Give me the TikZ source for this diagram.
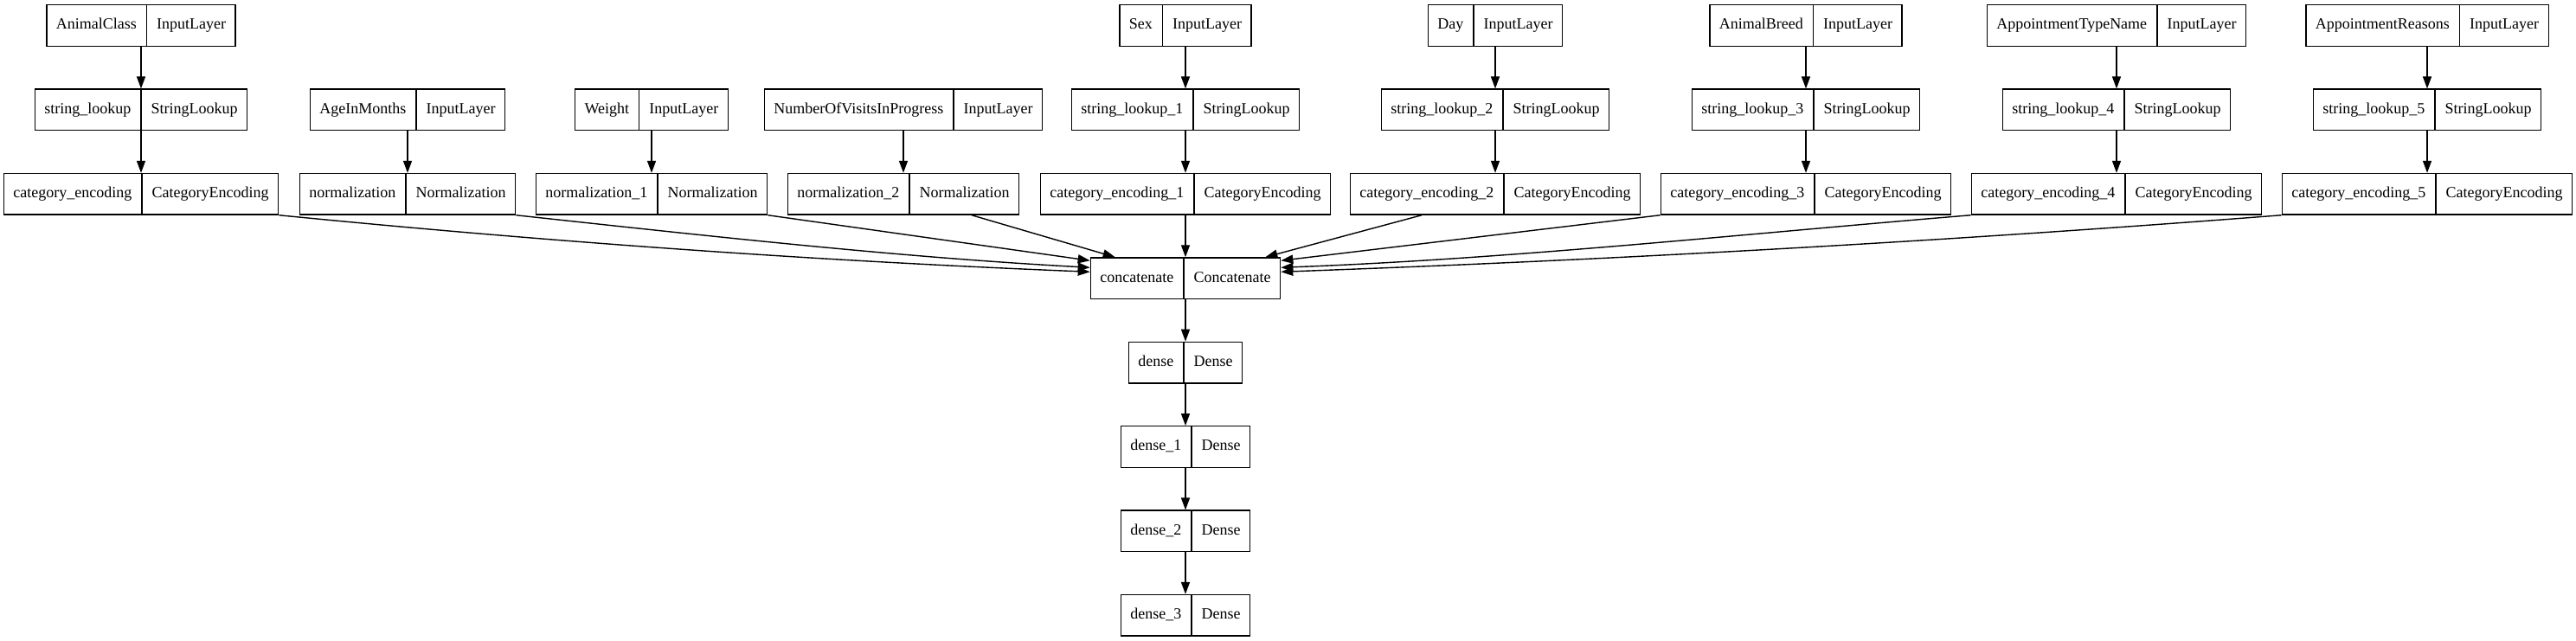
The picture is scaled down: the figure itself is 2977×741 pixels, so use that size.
\documentclass[tikz,border=0pt]{standalone}
\usepackage{fontspec}
\setmainfont{Liberation Serif}
\usetikzlibrary{shapes.multipart,arrows.meta,calc}
\newcommand{\fstrut}{\rule[-3.5pt]{0pt}{13.5pt}}
\newcommand{\recnode}[5]{\node[recbox] (#1) at (#2,#3) {#4\fstrut\nodepart{two}#5\fstrut};}
\tikzset{
  recbox/.style={draw, line width=1.05pt, rectangle split, rectangle split horizontal,
    rectangle split parts=2, inner xsep=8.25pt, inner ysep=11.05pt,
    font=\fontsize{13.5}{16}\selectfont},
  conn/.style={draw, line width=1.05pt, -{Triangle[length=10.5pt,width=7.5pt]}}
}
\begin{document}
\begin{tikzpicture}[x=0.75pt,y=-0.75pt]
\useasboundingbox (0,0) rectangle (2977,741);
% row 1
\recnode{ac}{163}{29.5}{AnimalClass}{InputLayer}
\recnode{sex}{1370}{29.5}{Sex}{InputLayer}
\recnode{day}{1728}{29.5}{Day}{InputLayer}
\recnode{ab}{2087}{29.5}{AnimalBreed}{InputLayer}
\recnode{atn}{2446}{29.5}{AppointmentTypeName}{InputLayer}
\recnode{ar}{2805}{29.5}{AppointmentReasons}{InputLayer}
% row 2
\recnode{sl}{163}{126.9}{string\_lookup}{StringLookup}
\recnode{age}{471}{126.9}{AgeInMonths}{InputLayer}
\recnode{wt}{753}{126.9}{Weight}{InputLayer}
\recnode{nv}{1044}{126.9}{NumberOfVisitsInProgress}{InputLayer}
\recnode{slA}{1370}{126.9}{string\_lookup\_1}{StringLookup}
\recnode{slB}{1728}{126.9}{string\_lookup\_2}{StringLookup}
\recnode{slC}{2087}{126.9}{string\_lookup\_3}{StringLookup}
\recnode{slD}{2446}{126.9}{string\_lookup\_4}{StringLookup}
\recnode{slE}{2805}{126.9}{string\_lookup\_5}{StringLookup}
% row 3
\recnode{ce}{163}{224.3}{category\_encoding}{CategoryEncoding}
\recnode{nm}{471}{224.3}{normalization}{Normalization}
\recnode{nmA}{753}{224.3}{normalization\_1}{Normalization}
\recnode{nmB}{1044}{224.3}{normalization\_2}{Normalization}
\recnode{ceA}{1370}{224.3}{category\_encoding\_1}{CategoryEncoding}
\recnode{ceB}{1728}{224.3}{category\_encoding\_2}{CategoryEncoding}
\recnode{ceC}{2087}{224.3}{category\_encoding\_3}{CategoryEncoding}
\recnode{ceD}{2446}{224.3}{category\_encoding\_4}{CategoryEncoding}
\recnode{ceE}{2805}{224.3}{category\_encoding\_5}{CategoryEncoding}
% chain
\recnode{cc}{1370}{321.7}{concatenate}{Concatenate}
\recnode{d0}{1370}{419.1}{dense}{Dense}
\recnode{d1}{1370}{516.5}{dense\_1}{Dense}
\recnode{d2}{1370}{613.9}{dense\_2}{Dense}
\recnode{d3}{1370}{711.3}{dense\_3}{Dense}
% vertical edges
\draw[conn] (ac.south) -- (sl.north);
\draw[conn] (sl.south) -- (ce.north);
\draw[conn] (age.south) -- (nm.north);
\draw[conn] (wt.south) -- (nmA.north);
\draw[conn] (nv.south) -- (nmB.north);
\draw[conn] (sex.south) -- (slA.north);
\draw[conn] (slA.south) -- (ceA.north);
\draw[conn] (day.south) -- (slB.north);
\draw[conn] (slB.south) -- (ceB.north);
\draw[conn] (ab.south) -- (slC.north);
\draw[conn] (slC.south) -- (ceC.north);
\draw[conn] (atn.south) -- (slD.north);
\draw[conn] (slD.south) -- (ceD.north);
\draw[conn] (ar.south) -- (slE.north);
\draw[conn] (slE.south) -- (ceE.north);
% into concatenate
\draw[conn] (ce.south east) .. controls ($(ce.south east)+(314,31)$) and ($(cc.north west)+(-314,4.4)$) .. ($(cc.north west)+(0,17)$);
\draw[conn] (nm.south east) .. controls ($(nm.south east)+(222,24)$) and ($(cc.north west)+(-222,0)$) .. ($(cc.north west)+(0,12)$);
\draw[conn] (nmA.south east) -- ($(cc.north west)+(0,4)$);
\draw[conn] ($(nmB.south)+(79,0)$) -- ($(cc.north west)+(29,0)$);
\draw[conn] (ceA.south) -- (ceA.south |- cc.north);
\draw[conn] ($(ceB.south)+(-85,0)$) -- ($(cc.north east)+(-18,0)$);
\draw[conn] (ceC.south west) -- ($(cc.north east)+(0,4)$);
\draw[conn] (ceD.south west) .. controls ($(ceD.south west)+(-267,22)$) and ($(cc.north east)+(267,2)$) .. ($(cc.north east)+(0,12)$);
\draw[conn] (ceE.south west) .. controls ($(ceE.south west)+(-386,30)$) and ($(cc.north east)+(386,3)$) .. ($(cc.north east)+(0,17)$);
% dense chain
\draw[conn] (cc.south) -- (d0.north);
\draw[conn] (d0.south) -- (d1.north);
\draw[conn] (d1.south) -- (d2.north);
\draw[conn] (d2.south) -- (d3.north);
\end{tikzpicture}
\end{document}
